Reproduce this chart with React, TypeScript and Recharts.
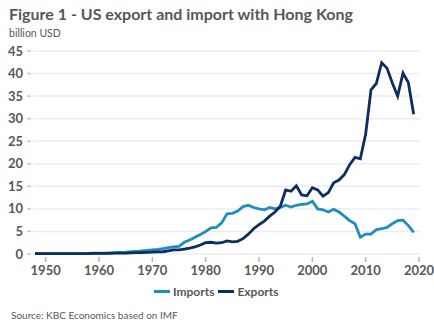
import React from "react";
import { LineChart, Line, XAxis, YAxis, CartesianGrid } from "recharts";

const years = [
  1948, 1949, 1950, 1951, 1952, 1953, 1954, 1955, 1956, 1957, 1958, 1959,
  1960, 1961, 1962, 1963, 1964, 1965, 1966, 1967, 1968, 1969,
  1970, 1971, 1972, 1973, 1974, 1975, 1976, 1977, 1978, 1979,
  1980, 1981, 1982, 1983, 1984, 1985, 1986, 1987, 1988, 1989,
  1990, 1991, 1992, 1993, 1994, 1995, 1996, 1997, 1998, 1999,
  2000, 2001, 2002, 2003, 2004, 2005, 2006, 2007, 2008, 2009,
  2010, 2011, 2012, 2013, 2014, 2015, 2016, 2017, 2018, 2019, 2020,
];

const imports = [
  0.1, 0.1, 0.1, 0.1, 0.1, 0.1, 0.1, 0.1, 0.1, 0.1, 0.15, 0.2,
  0.2, 0.2, 0.25, 0.3, 0.35, 0.4, 0.5, 0.55, 0.7, 0.8,
  0.9, 1.0, 1.2, 1.4, 1.6, 1.7, 2.6, 3.1, 3.7, 4.3,
  5.0, 5.8, 5.9, 6.9, 8.9, 9.0, 9.5, 10.5, 10.8, 10.3,
  10.0, 9.8, 10.3, 10.0, 10.3, 10.8, 10.4, 10.8, 11.0, 11.1,
  11.7, 10.0, 9.8, 9.3, 9.9, 9.3, 8.4, 7.4, 6.7, 3.7,
  4.4, 4.4, 5.4, 5.6, 5.9, 6.7, 7.4, 7.5, 6.3, 4.8,
];

const exports = [
  0.1, 0.1, 0.1, 0.1, 0.1, 0.1, 0.1, 0.1, 0.1, 0.1, 0.1, 0.15,
  0.15, 0.15, 0.15, 0.2, 0.2, 0.2, 0.25, 0.3, 0.3, 0.35,
  0.4, 0.45, 0.5, 0.7, 0.9, 0.9, 1.1, 1.3, 1.6, 2.0,
  2.5, 2.6, 2.4, 2.5, 2.9, 2.7, 2.8, 3.4, 4.4, 5.6,
  6.5, 7.3, 8.4, 9.3, 10.6, 14.2, 13.9, 15.1, 13.1, 12.9,
  14.7, 14.2, 12.8, 13.6, 15.8, 16.4, 17.6, 19.8, 21.4, 21.1,
  26.6, 36.4, 37.8, 42.4, 41.2, 37.9, 35.0, 40.1, 38.0, 31.0,
];

const xTicks = [1950, 1960, 1970, 1980, 1990, 2000, 2010, 2020];
const yTicks = [0, 5, 10, 15, 20, 25, 30, 35, 40, 45];

const importColor = "#1f8dc2";
const exportColor = "#0b2e5e";
const textColor = "#575757";
const font = "Lato, 'Open Sans', sans-serif";

const data = years.map((year, i) => ({
  year,
  imports: imports[i],
  exports: exports[i],
}));

const XTick = (props: any) => {
  const { x, y, payload } = props;
  return (
    <g>
      <line x1={x} x2={x} y1={y - 5} y2={y} stroke="#b5b5b5" strokeWidth={1.5} />
      <text
        x={x}
        y={y + 13}
        textAnchor="middle"
        fill={textColor}
        fontSize={13}
        fontWeight={700}
        fontFamily={font}
      >
        {payload.value}
      </text>
    </g>
  );
};

const YTick = (props: any) => {
  const { x, y, payload } = props;
  return (
    <g>
      <line x1={x + 2} x2={x + 6} y1={y} y2={y} stroke="#c8c8c8" strokeWidth={1.5} />
      <text
        x={x - 2}
        y={y + 4.5}
        textAnchor="end"
        fill={textColor}
        fontSize={13}
        fontWeight={700}
        fontFamily={font}
      >
        {payload.value}
      </text>
    </g>
  );
};

const LegendItem = ({ color, label }: { color: string; label: string }) => (
  <span style={{ display: "inline-flex", alignItems: "center", marginRight: 4 }}>
    <span
      style={{
        display: "inline-block",
        width: 16,
        height: 3,
        background: color,
        marginRight: 3,
      }}
    />
    <span>{label}</span>
  </span>
);

export default function App() {
  return (
    <div
      style={{
        position: "fixed",
        left: 0,
        top: 0,
        width: 434,
        height: 334,
        background: "#fff",
        fontFamily: font,
        color: textColor,
      }}
    >
      <div
        style={{
          position: "absolute",
          left: 9,
          top: 4,
          fontSize: 16,
          fontWeight: 700,
          whiteSpace: "nowrap",
        }}
      >
        Figure 1 - US export and import with Hong Kong
      </div>
      <div style={{ position: "absolute", left: 9, top: 27, fontSize: 10.5 }}>
        billion USD
      </div>

      <LineChart
        width={434}
        height={334}
        data={data}
        margin={{ top: 51, right: 14, bottom: 50, left: 0 }}
        style={{ position: "absolute", left: 0, top: 0 }}
      >
        <CartesianGrid vertical={false} stroke="#ececec" strokeWidth={1.5} />
        <XAxis
          dataKey="year"
          type="number"
          domain={[1948, 2020]}
          ticks={xTicks}
          padding={{ left: 2, right: 1 }}
          axisLine={false}
          tickLine={false}
          tick={<XTick />}
          height={30}
          interval={0}
        />
        <YAxis
          domain={[0, 45]}
          ticks={yTicks}
          width={33}
          axisLine={false}
          tickLine={false}
          tick={<YTick />}
          interval={0}
        />
        <Line
          type="linear"
          dataKey="imports"
          stroke={importColor}
          strokeWidth={2.8}
          dot={false}
          isAnimationActive={false}
        />
        <Line
          type="linear"
          dataKey="exports"
          stroke={exportColor}
          strokeWidth={2.8}
          dot={false}
          isAnimationActive={false}
        />
      </LineChart>

      <div
        style={{
          position: "absolute",
          left: 154,
          top: 284,
          fontSize: 12,
          fontWeight: 700,
          display: "flex",
          whiteSpace: "nowrap",
        }}
      >
        <LegendItem color={importColor} label="Imports" />
        <LegendItem color={exportColor} label="Exports" />
      </div>

      <div style={{ position: "absolute", left: 11, top: 309, fontSize: 10 }}>
        Source: KBC Economics based on IMF
      </div>
    </div>
  );
}
